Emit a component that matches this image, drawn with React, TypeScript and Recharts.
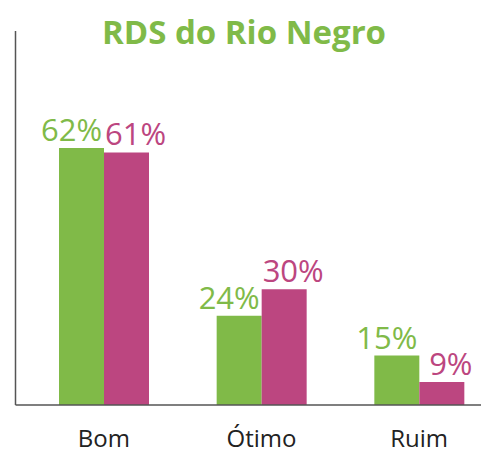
import { BarChart, Bar, XAxis, YAxis, LabelList } from "recharts";

const categories = ["Bom", "Ótimo", "Ruim"];
const greenValues = [62, 24, 15];
const pinkValues = [61, 30, 9];

const GREEN = "#80ba48";
const PINK = "#bc4680";

const data = categories.map((name, i) => ({
  name,
  green: greenValues[i],
  pink: pinkValues[i],
}));

function makeLabel(color: string, dx: number) {
  return (props: any) => {
    const { x, y, width, value } = props;
    return (
      <text
        x={Number(x) + Number(width) / 2 + dx}
        y={Number(y) - 7}
        textAnchor="middle"
        fill={color}
        fontSize={31}
        fontFamily="Open Sans"
      >
        {`${value}%`}
      </text>
    );
  };
}

export default function App() {
  return (
    <div
      style={{
        position: "absolute",
        left: 0,
        top: 0,
        width: 481,
        height: 455,
        overflow: "hidden",
        background: "#fff",
      }}
    >
      <div
        style={{
          position: "absolute",
          top: 15,
          left: 0,
          width: 488,
          textAlign: "center",
          fontFamily: "Open Sans",
          fontWeight: 700,
          fontSize: 33,
          lineHeight: "33px",
          color: GREEN,
        }}
      >
        RDS do Rio Negro
      </div>
      <BarChart
        width={500}
        height={455}
        data={data}
        margin={{ top: 31, right: 2, bottom: 0, left: 0 }}
        barSize={45}
        barGap={0}
      >
        <YAxis
          type="number"
          domain={[3.8, 88.5]}
          allowDataOverflow
          width={15.5}
          tick={false}
          tickLine={false}
          axisLine={{ stroke: "#555", strokeWidth: 1.5 }}
        />
        <XAxis
          dataKey="name"
          height={50}
          padding={{ left: 9.5, right: 0 }}
          tickLine={false}
          tickSize={0}
          tickMargin={25}
          axisLine={{ stroke: "#555", strokeWidth: 1.5 }}
          tick={{ fill: "#222", fontSize: 24, fontFamily: "Open Sans" }}
        />
        <Bar dataKey="green" fill={GREEN} isAnimationActive={false}>
          <LabelList dataKey="green" content={makeLabel(GREEN, -10)} />
        </Bar>
        <Bar dataKey="pink" fill={PINK} isAnimationActive={false}>
          <LabelList dataKey="pink" content={makeLabel(PINK, 9)} />
        </Bar>
      </BarChart>
    </div>
  );
}
